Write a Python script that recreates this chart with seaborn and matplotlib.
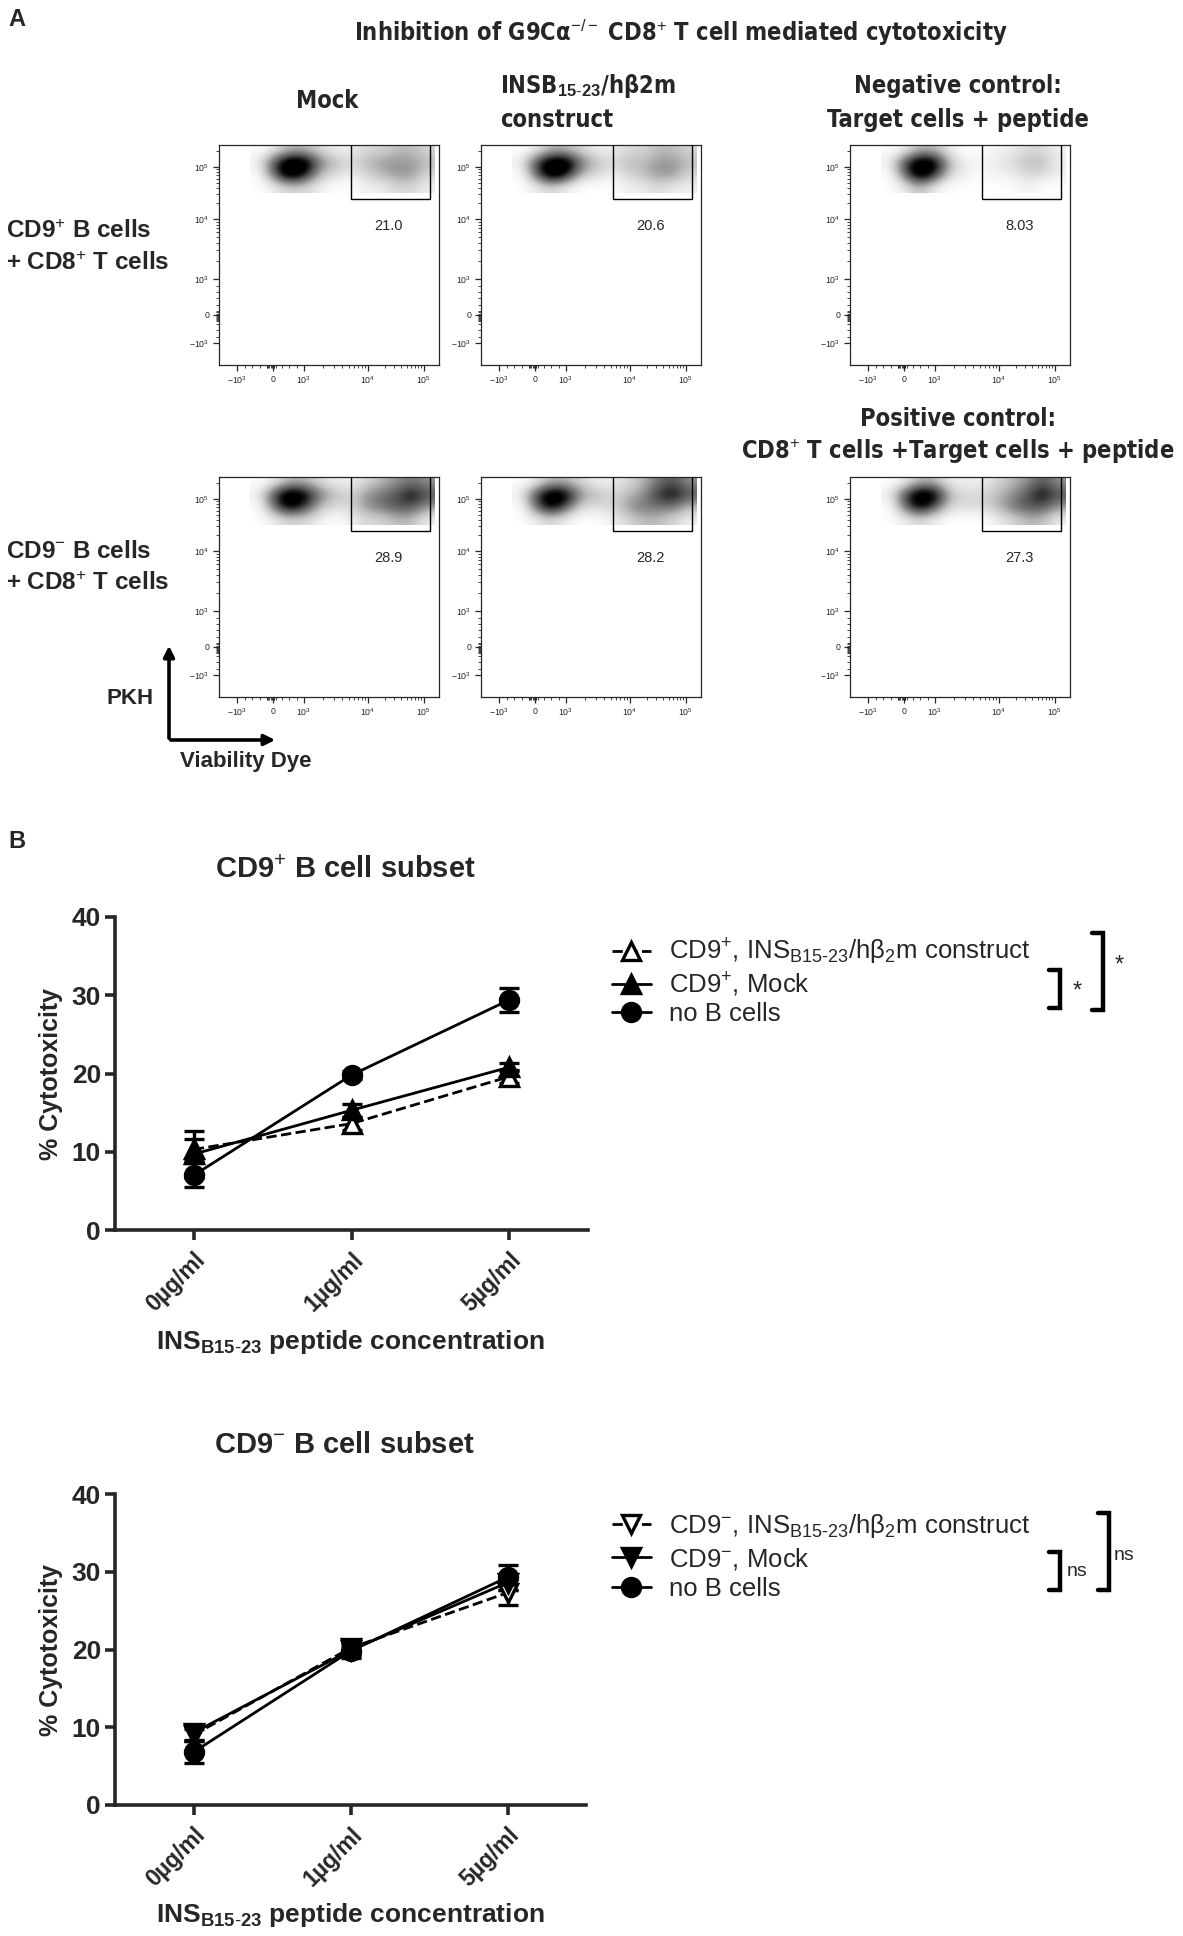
import numpy as np
import pandas as pd
import matplotlib
matplotlib.use("Agg")
import matplotlib.pyplot as plt
import seaborn as sns
from matplotlib.lines import Line2D
from matplotlib.patches import Rectangle, FancyArrowPatch
from matplotlib import font_manager as fm

# ---------------- data ----------------
categories = ["0µg/ml", "1µg/ml", "5µg/ml"]

cd9pos_construct_mean = [10.3, 13.6, 19.6]
cd9pos_construct_sd = [1.3, 0.8, 0.8]
cd9pos_mock_mean = [9.7, 15.3, 20.8]
cd9pos_mock_sd = [3.0, 0.8, 0.5]
cd9pos_noB_mean = [7.0, 19.8, 29.4]
cd9pos_noB_sd = [1.5, 0.5, 1.5]

cd9neg_construct_mean = [9.0, 20.2, 27.3]
cd9neg_construct_sd = [0.8, 0.8, 1.6]
cd9neg_mock_mean = [9.3, 19.9, 28.6]
cd9neg_mock_sd = [1.0, 1.0, 1.0]
cd9neg_noB_mean = [6.8, 19.8, 29.3]
cd9neg_noB_sd = [1.4, 0.6, 1.6]

gate_values = ["21.0", "20.6", "8.03", "28.9", "28.2", "27.3"]

# coarse density of the dot clouds (rows top->bottom, cols left->right)
mock_cd9pos_density = [[0, 1, 3, 3, 2, 1, 1, 2, 2, 3, 3, 2],
                       [1, 6, 10, 10, 5, 3, 2, 3, 4, 4, 4, 3],
                       [0, 5, 10, 8, 3, 2, 1, 2, 3, 4, 4, 2],
                       [0, 1, 2, 2, 1, 0, 0, 1, 1, 2, 2, 1]]
construct_cd9pos_density = [[0, 1, 3, 3, 2, 1, 1, 2, 2, 3, 3, 2],
                            [1, 6, 10, 10, 5, 3, 2, 3, 3, 4, 4, 3],
                            [0, 5, 10, 8, 3, 2, 1, 2, 3, 4, 4, 2],
                            [0, 1, 2, 1, 0, 0, 0, 1, 1, 2, 1, 1]]
negctrl_density = [[0, 1, 3, 3, 1, 0, 0, 1, 1, 2, 2, 1],
                   [1, 6, 10, 9, 3, 1, 1, 1, 2, 3, 3, 1],
                   [0, 5, 10, 7, 2, 1, 0, 1, 1, 2, 2, 1],
                   [0, 1, 3, 1, 0, 0, 0, 0, 0, 1, 0, 0]]
mock_cd9neg_density = [[0, 1, 3, 3, 2, 1, 1, 2, 3, 4, 5, 4],
                       [1, 6, 10, 9, 5, 3, 2, 4, 5, 6, 8, 6],
                       [0, 5, 9, 7, 3, 2, 2, 4, 5, 6, 6, 4],
                       [0, 1, 2, 2, 1, 0, 1, 2, 2, 3, 3, 1]]
construct_cd9neg_density = [[0, 1, 3, 3, 2, 1, 1, 2, 3, 5, 6, 4],
                            [1, 6, 10, 9, 4, 3, 2, 3, 4, 7, 8, 6],
                            [0, 5, 9, 6, 2, 2, 2, 4, 5, 5, 5, 3],
                            [0, 1, 2, 1, 0, 0, 1, 2, 3, 3, 2, 1]]
posctrl_density = [[0, 1, 3, 3, 1, 1, 1, 2, 3, 4, 6, 4],
                   [1, 6, 10, 9, 3, 2, 2, 3, 4, 6, 8, 6],
                   [0, 5, 9, 6, 2, 2, 2, 3, 5, 6, 6, 4],
                   [0, 1, 2, 1, 0, 0, 0, 1, 2, 3, 3, 1]]

flow_tick_labels = [r"$-10^3$", "0", r"$10^3$", r"$10^4$", r"$10^5$"]

# ---------------- style ----------------
sns.set_style("ticks")
plt.rcParams["font.family"] = ["Liberation Sans", "DejaVu Sans"]
plt.rcParams["mathtext.fontset"] = "custom"
plt.rcParams["mathtext.rm"] = "Liberation Sans"
plt.rcParams["mathtext.it"] = "Liberation Sans:italic"
plt.rcParams["mathtext.bf"] = "Liberation Sans:bold"

names = {f.name for f in fm.fontManager.ttflist}
if "Liberation Sans Narrow" in names:
    NARROW = dict(family=["Liberation Sans Narrow", "DejaVu Sans"])
else:
    NARROW = dict(family=["DejaVu Sans"], fontstretch="condensed")

W, H = 1183, 1936
fig = plt.figure(figsize=(W / 100, H / 100), dpi=100)


def add_ax(left, top, w, h):
    return fig.add_axes([left / W, 1 - (top + h) / H, w / W, h / H])


def ftext(x, y, s, **kw):
    kw.setdefault("va", "center")
    return fig.text(x / W, 1 - y / H, s, **kw)


# ---------------- Panel A ----------------
ftext(8, 20, "A", fontsize=17, fontweight="bold")
ftext(681, 33, r"Inhibition of G9Cα$^{-/-}$ CD8$^{+}$ T cell mediated cytotoxicity",
      fontsize=17, fontweight="bold", ha="center", **NARROW)
ftext(327, 101, "Mock", fontsize=17, fontweight="bold", ha="center", **NARROW)
ftext(500, 86, r"INSB$_{\mathbf{15}\text{-}\mathbf{23}}$/hβ2m", fontsize=17,
      fontweight="bold", ha="left", **NARROW)
ftext(500, 120, "construct", fontsize=17, fontweight="bold", ha="left", **NARROW)
ftext(958, 86, "Negative control:", fontsize=17, fontweight="bold", ha="center", **NARROW)
ftext(958, 120, "Target cells + peptide", fontsize=17, fontweight="bold", ha="center", **NARROW)
ftext(958, 419, "Positive control:", fontsize=17, fontweight="bold", ha="center", **NARROW)
ftext(958, 451, r"CD8$^{+}$ T cells +Target cells + peptide", fontsize=17,
      fontweight="bold", ha="center", **NARROW)

ftext(6, 232, r"CD9$^{+}$ B cells", fontsize=17.5, fontweight="bold")
ftext(6, 263, r"+ CD8$^{+}$ T cells", fontsize=17.5, fontweight="bold")
ftext(6, 552, r"CD9$^{-}$ B cells", fontsize=17.5, fontweight="bold")
ftext(6, 583, r"+ CD8$^{+}$ T cells", fontsize=17.5, fontweight="bold")

ftext(130, 698, "PKH", fontsize=16, fontweight="bold", ha="center")
ftext(180, 762, "Viability Dye", fontsize=16, fontweight="bold", ha="left")
for (x0, y0), (x1, y1) in [((169, 741), (169, 643)), ((168, 740), (278, 740))]:
    fig.add_artist(FancyArrowPatch((x0 / W, 1 - y0 / H), (x1 / W, 1 - y1 / H),
                                   transform=fig.transFigure, arrowstyle="-|>",
                                   mutation_scale=16, lw=2.6, color="black"))

YT = [0.099, 0.229, 0.39, 0.664, 0.90]
XT = [0.08, 0.247, 0.386, 0.677, 0.93]


def minor_positions(t):
    p_m, p0, p3, p4, p5 = t
    pos = []
    for k in range(2, 10):
        pos.append(p3 + (p4 - p3) * np.log10(k))
        pos.append(p4 + (p5 - p4) * np.log10(k))
    for k in (2, 3):
        pos.append(p5 + (p5 - p4) * np.log10(k))
    pos += list(np.linspace(p_m, p3, 11)[1:-1])
    pos += list(np.linspace(p0 - 0.03, p0 + 0.01, 8))
    return [p for p in pos if 0 < p < 1]


def flow_plot(left, top, grid, gate_val):
    ax = add_ax(left, top, 220, 220)
    ax.imshow(np.array(grid, dtype=float), extent=(0.14, 0.98, 0.78, 1.0),
              origin="upper", cmap="Greys", vmin=0, vmax=8,
              interpolation="bicubic", aspect="auto", zorder=1)
    ax.set_xlim(0, 1)
    ax.set_ylim(0, 1)
    ax.add_patch(Rectangle((0.60, 0.755), 0.36, 0.30, fill=False,
                           lw=1.0, ec="black", zorder=3, clip_on=True))
    ax.text(0.77, 0.63, gate_val, fontsize=10.5, ha="center", va="center",
            transform=ax.transAxes)
    ax.set_xticks(XT)
    ax.set_xticklabels(flow_tick_labels, fontsize=6.3)
    ax.set_yticks(YT)
    ax.set_yticklabels(flow_tick_labels, fontsize=6.3)
    ax.set_xticks(minor_positions([XT[0] - 0.03] + XT[1:]), minor=True)
    ax.set_yticks(minor_positions(YT), minor=True)
    ax.tick_params(which="major", length=4, width=0.9, pad=3)
    ax.tick_params(which="minor", length=2.2, width=0.6)
    for s in ax.spines.values():
        s.set_linewidth(0.9)
    return ax


flow_plot(219, 145, mock_cd9pos_density, gate_values[0])
flow_plot(481, 145, construct_cd9pos_density, gate_values[1])
flow_plot(850, 145, negctrl_density, gate_values[2])
flow_plot(219, 477, mock_cd9neg_density, gate_values[3])
flow_plot(481, 477, construct_cd9neg_density, gate_values[4])
flow_plot(850, 477, posctrl_density, gate_values[5])

# ---------------- Panel B ----------------
ftext(8, 842, "B", fontsize=17, fontweight="bold")

LW = 2.0
MS = 13


def line_panel(left, top, w, h, series, title, title_y):
    ax = add_ax(left, top, w, h)
    xpos = np.arange(len(categories))
    for mean, sd, marker, mfc, ls in series:
        ax.errorbar(xpos, mean, yerr=sd, fmt="none", ecolor="black",
                    elinewidth=2.4, capsize=7, capthick=2.4, zorder=2)
        sns.lineplot(x=xpos, y=mean, ax=ax, color="black", linestyle=ls,
                     linewidth=LW, marker=marker, markersize=MS,
                     markerfacecolor=mfc, markeredgecolor="black",
                     markeredgewidth=2.4, zorder=3)
    ax.set_xlim(-0.5, 2.5)
    ax.set_ylim(0, 40)
    ax.set_yticks([0, 10, 20, 30, 40])
    ax.set_xticks(xpos)
    ax.set_xticklabels(categories, rotation=45, ha="right", rotation_mode="anchor",
                       fontsize=16.5, fontweight="bold")
    for lab in ax.get_yticklabels():
        lab.set_fontweight("bold")
        lab.set_fontsize(19)
    sns.despine(ax=ax)
    for s in ("left", "bottom"):
        ax.spines[s].set_linewidth(2.6)
    ax.tick_params(axis="both", length=7, width=2.6, pad=3)
    ax.tick_params(axis="x", pad=6)
    ax.set_ylabel("% Cytotoxicity", fontsize=18, fontweight="bold", labelpad=6)
    ax.set_xlabel("")
    ftext(left + w * 0.5 - 6, title_y, title, fontsize=21, fontweight="bold", ha="center")
    return ax


ax1 = line_panel(115, 917, 473, 313,
                 [(cd9pos_construct_mean, cd9pos_construct_sd, "^", "white", "--"),
                  (cd9pos_mock_mean, cd9pos_mock_sd, "^", "black", "-"),
                  (cd9pos_noB_mean, cd9pos_noB_sd, "o", "black", "-")],
                 r"CD9$^{+}$ B cell subset", 870)
ftext(350, 1342, r"INS$_{\mathbf{B15}\text{-}\mathbf{23}}$ peptide concentration",
      fontsize=19, fontweight="bold", ha="center")

ax2 = line_panel(115, 1494, 471, 311,
                 [(cd9neg_construct_mean, cd9neg_construct_sd, "v", "white", "--"),
                  (cd9neg_mock_mean, cd9neg_mock_sd, "v", "black", "-"),
                  (cd9neg_noB_mean, cd9neg_noB_sd, "o", "black", "-")],
                 r"CD9$^{-}$ B cell subset", 1445)
ftext(350, 1915, r"INS$_{\mathbf{B15}\text{-}\mathbf{23}}$ peptide concentration",
      fontsize=19, fontweight="bold", ha="center")


def legend_handles(tri):
    return [Line2D([0], [0], color="black", ls="--", lw=LW, marker=tri, ms=MS,
                   mfc="white", mec="black", mew=2.4),
            Line2D([0], [0], color="black", ls="-", lw=LW, marker=tri, ms=MS,
                   mfc="black", mec="black", mew=2.4),
            Line2D([0], [0], color="black", ls="-", lw=LW, marker="o", ms=MS,
                   mfc="black", mec="black", mew=2.4)]


leg1 = fig.legend(legend_handles("^"),
                  [r"CD9$^{+}$, INS$_{\text{B15-23}}$/hβ$_{2}$m construct",
                   r"CD9$^{+}$, Mock", "no B cells"],
                  loc="upper left", bbox_to_anchor=(612 / W, 1 - 937 / H),
                  frameon=False, fontsize=18.5, handlelength=1.5, handletextpad=0.7,
                  labelspacing=0.12, borderaxespad=0, borderpad=0)
leg2 = fig.legend(legend_handles("v"),
                  [r"CD9$^{-}$, INS$_{\text{B15-23}}$/hβ$_{2}$m construct",
                   r"CD9$^{-}$, Mock", "no B cells"],
                  loc="upper left", bbox_to_anchor=(612 / W, 1 - 1512 / H),
                  frameon=False, fontsize=18.5, handlelength=1.5, handletextpad=0.7,
                  labelspacing=0.22, borderaxespad=0, borderpad=0)


def bracket(x, y0, y1, arm=11):
    xs = [x - arm, x, x, x - arm]
    ys = [y0, y0, y1, y1]
    fig.add_artist(Line2D([v / W for v in xs], [1 - v / H for v in ys],
                          transform=fig.transFigure, color="black", lw=3.2,
                          solid_joinstyle="miter"))


bracket(1060, 970, 1008)
bracket(1103, 933, 1010)
ftext(1077, 992, "*", fontsize=17, ha="center")
ftext(1119, 966, "*", fontsize=17, ha="center")

bracket(1060, 1552, 1590)
bracket(1109, 1513, 1590)
ftext(1067, 1571, "ns", fontsize=14, ha="left")
ftext(1114, 1555, "ns", fontsize=14, ha="left")

fig.savefig("out.png", dpi=100, facecolor="white")
